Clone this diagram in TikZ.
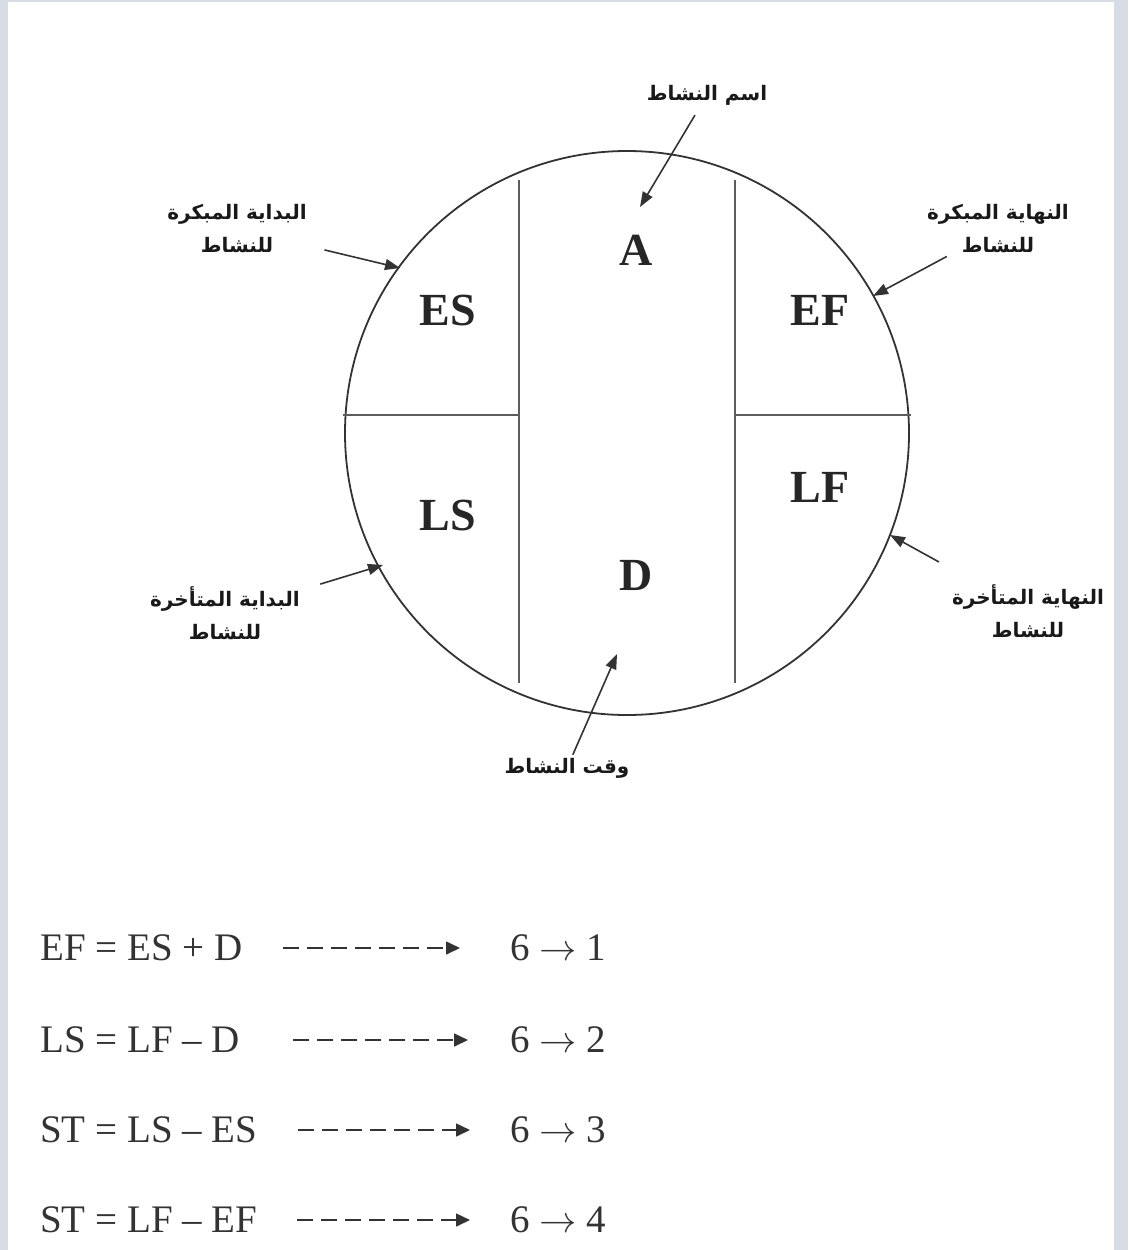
\documentclass[tikz,border=0pt]{standalone}
\usepackage{fontspec}
\usepackage{graphicx}
\setmainfont{Liberation Serif}
\newfontfamily\arabicfont[Script=Arabic]{DejaVu Sans}
\TeXXeTstate=1
\usetikzlibrary{arrows.meta}
\definecolor{framegray}{HTML}{D8DCE5}
\definecolor{inkgray}{HTML}{333333}
\newcommand{\stepto}{\scalebox{1.5}{$\rightarrow$}}

\begin{document}
\begin{tikzpicture}[x=1pt,y=-1pt,outline/.style={draw=inkgray,line width=1.8pt},divider/.style={draw=inkgray!80,line width=1.8pt},cell/.style={font=\fontsize{46}{50}\selectfont\bfseries,text=black!85,inner sep=2pt},arlabel/.style={font=\arabicfont\bfseries\fontsize{20}{33}\selectfont,text=black!90,align=center,inner sep=3pt},arrow/.style={draw=inkgray,line width=1.6pt,-{Triangle[length=15pt,width=11pt]}},eqn/.style={font=\fontsize{39}{42}\selectfont,text=black!80,inner sep=0pt},dasharrow/.style={draw=inkgray,line width=1.6pt,dash pattern=on 16pt off 8pt,-{Triangle[length=14pt,width=13pt]}}]
% frame
\fill[framegray] (0,0) rectangle (1128,1250);
\fill[white] (8,2) rectangle (1114,1250);
% circle and its cells
\draw[outline] (627,433) circle (282pt);
\draw[divider] (519,180) -- (519,683);
\draw[divider] (735,180) -- (735,683);
\draw[divider] (343,415) -- (519,415);
\draw[divider] (735,415) -- (911,415);
\node[cell] (a) at (636,250) {A};
\node[cell] (es) at (448,310) {ES};
\node[cell] (ef) at (820,310) {EF};
\node[cell] (ls) at (448,515) {LS};
\node[cell] (lf) at (820,487) {LF};
\node[cell] (d) at (636,575) {D};
% labels round the circle
\node[arlabel] (nameLbl) at (707,95) {\beginR اسم النشاط\endR};
\node[arlabel] (esLbl) at (237,229) {\beginR البداية المبكرة\endR\\\beginR للنشاط\endR};
\node[arlabel] (efLbl) at (998,229) {\beginR النهاية المبكرة\endR\\\beginR للنشاط\endR};
\node[arlabel] (lsLbl) at (225,613) {\beginR البداية المتأخرة\endR\\\beginR للنشاط\endR};
\node[arlabel] (lfLbl) at (1028,611) {\beginR النهاية المتأخرة\endR\\\beginR للنشاط\endR};
\node[arlabel] (timeLbl) at (567,768) {\beginR وقت النشاط\endR};
\coordinate (nameTip) at (640,207);
\coordinate (esTip) at (400,268);
\coordinate (efTip) at (873,296);
\coordinate (lsTip) at (383,565);
\coordinate (lfTip) at (890,535);
\coordinate (timeTip) at (617,654);
\draw[arrow,shorten <=8pt] (nameLbl) -- (nameTip); \draw[arrow,shorten <=15pt] (esLbl) -- (esTip); \draw[arrow] (efLbl) -- (efTip); \draw[arrow,shorten <=18pt] (lsLbl) -- (lsTip); \draw[arrow,shorten <=40pt] (lfLbl) -- (lfTip); \draw[arrow] (timeLbl) -- (timeTip);
% formulas
\node[eqn,anchor=west] (eq1) at (40,948) {EF = ES + D};
\node[eqn,anchor=west] (eq2) at (40,1040) {LS = LF – D};
\node[eqn,anchor=west] (eq3) at (40,1130) {ST = LS – ES};
\node[eqn,anchor=west] (eq4) at (40,1220) {ST = LF – EF};
\node[eqn,anchor=west] (res1) at (510,948) {6 \stepto{} 1};
\node[eqn,anchor=west] (res2) at (510,1040) {6 \stepto{} 2};
\node[eqn,anchor=west] (res3) at (510,1130) {6 \stepto{} 3};
\node[eqn,anchor=west] (res4) at (510,1220) {6 \stepto{} 4};
\draw[dasharrow,shorten <=40pt,shorten >=50pt] (eq1) -- (res1); \draw[dasharrow,shorten <=53pt,shorten >=42pt] (eq2) -- (res2); \draw[dasharrow,shorten <=41pt,shorten >=40pt] (eq3) -- (res3); \draw[dasharrow,shorten <=40pt,shorten >=40pt] (eq4) -- (res4);
\end{tikzpicture}
\end{document}
